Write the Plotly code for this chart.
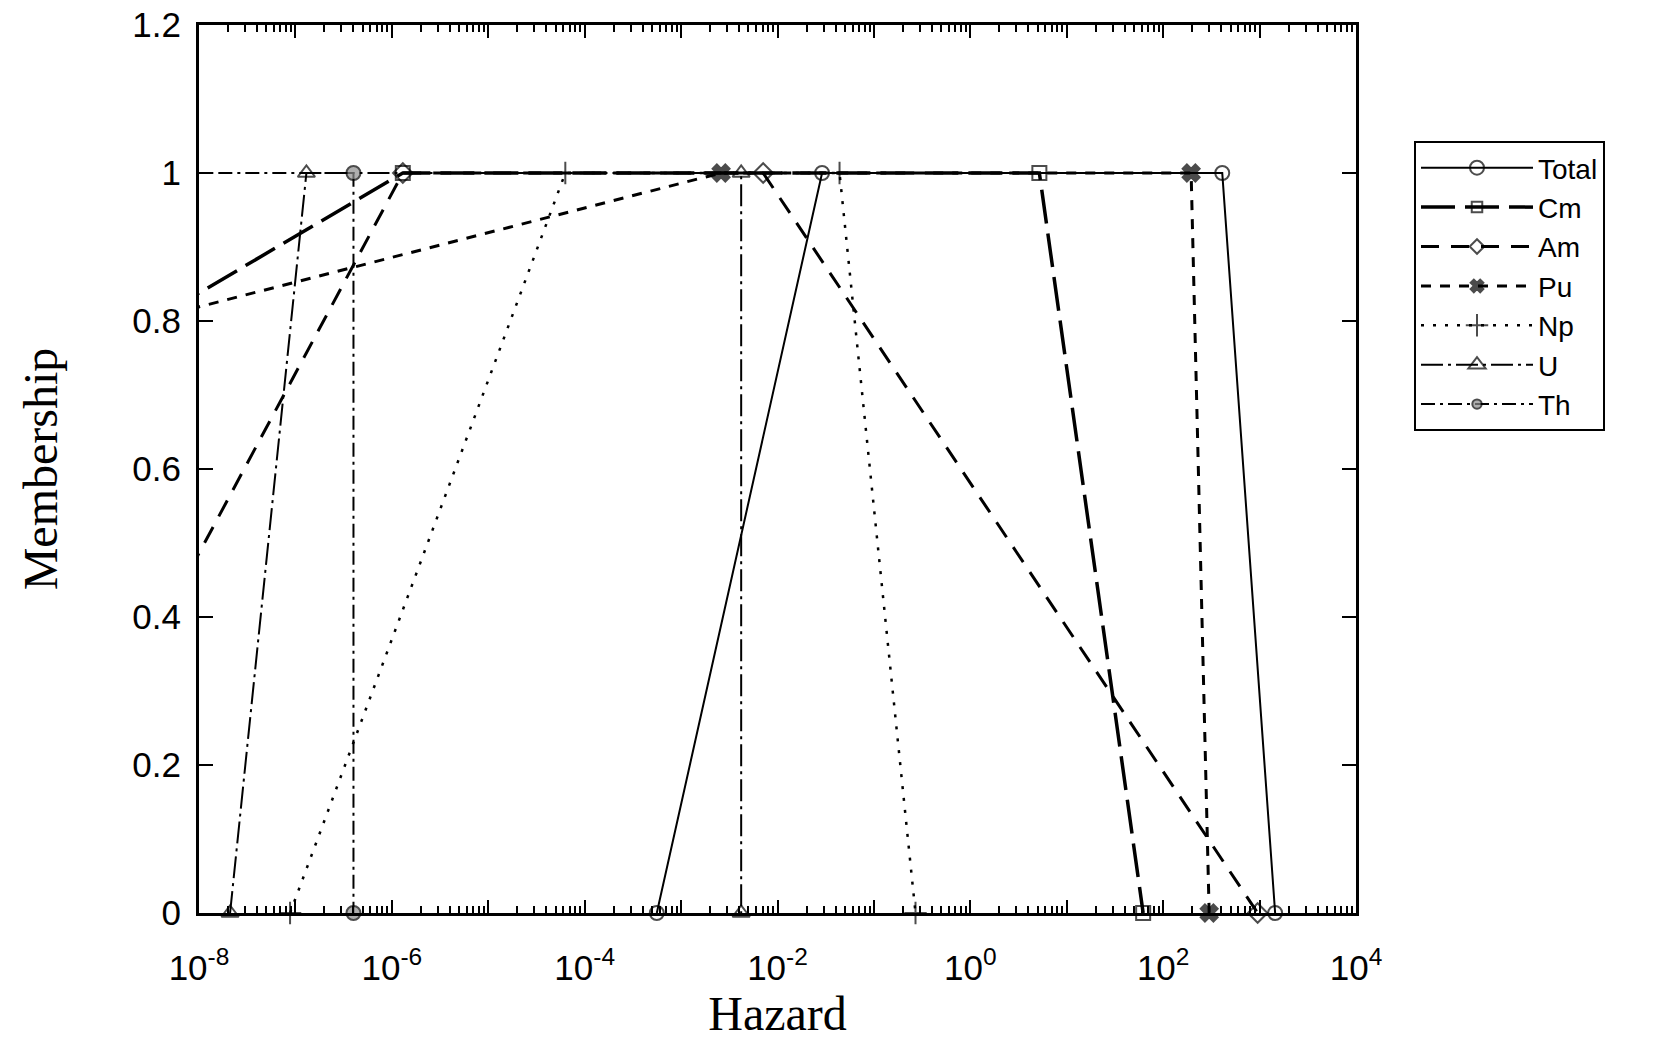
import plotly.graph_objects as go

# ---- data ----
x_exp_min, x_exp_max = -8, 4
y_ticks = [0, 0.2, 0.4, 0.6, 0.8, 1.0, 1.2]
y_tick_labels = ["0", "0.2", "0.4", "0.6", "0.8", "1", "1.2"]

total_x = [5.6e-4, 0.029, 410, 1450]
total_y = [0, 1, 1, 0]
cm_x = [1.2e-19, 1.3e-6, 5.2, 62]
cm_y = [0, 1, 1, 0]
am_x = [1.0e-10, 1.3e-6, 7.1e-3, 955]
am_y = [0, 1, 1, 0]
pu_x = [3e-33, 2.6e-3, 195, 300]
pu_y = [0, 1, 1, 0]
np_x = [8.8e-8, 6.3e-5, 0.044, 0.27]
np_y = [0, 1, 1, 0]
u_x = [2.1e-8, 1.3e-7, 4.2e-3, 4.2e-3]
u_y = [0, 1, 1, 0]
th_x = [1e-12, 4.0e-7, 4.0e-7]
th_y = [1, 1, 0]

series = [
    ("Total", total_x, total_y, dict(width=2, dash="solid"), "circle-open", 14, "black"),
    ("Cm", cm_x, cm_y, dict(width=3.5, dash="34px,10px"), "square-open", 14, "black"),
    ("Am", am_x, am_y, dict(width=3, dash="18px,12px"), "diamond-open", 15, "black"),
    ("Pu", pu_x, pu_y, dict(width=3, dash="10px,9px"), "x", 15, "black"),
    ("Np", np_x, np_y, dict(width=2.5, dash="3px,9px"), "cross-thin-open", 16, "black"),
    ("U", u_x, u_y, dict(width=2, dash="22px,5px,3px,5px"), "triangle-up-open", 15, "black"),
    ("Th", th_x, th_y, dict(width=2, dash="14px,5px,3px,5px"), "circle", 14, "#8c8c8c"),
]

lo, hi = 10 ** x_exp_min, 10 ** x_exp_max

fig = go.Figure()
for name, xs, ys, line, sym, size, mcol in series:
    sizes = [size if lo <= v <= hi else 0 for v in xs]
    fig.add_trace(go.Scatter(
        x=xs, y=ys, name=name, mode="lines+markers",
        line=dict(color="black", **line),
        marker=dict(symbol=sym, size=sizes, color=mcol,
                    line=dict(color="black", width=2)),
        cliponaxis=False,
    ))

major = [10 ** e for e in range(x_exp_min, x_exp_max + 1)]
major_text = ["10<sup>%d</sup>" % e if e % 2 == 0 else "" for e in range(x_exp_min, x_exp_max + 1)]
minor = [k * 10 ** e for e in range(x_exp_min, x_exp_max) for k in range(2, 10)]

W, H = 1657, 1043
L, R, T, B = 199, 1356, 25, 913

fig.update_layout(
    width=W, height=H,
    margin=dict(l=L, r=W - R, t=T, b=H - B, pad=0, autoexpand=False),
    paper_bgcolor="white", plot_bgcolor="white",
    font=dict(family="Liberation Sans", color="black", size=34),
    showlegend=True,
    legend=dict(
        x=(1414 - L) / (R - L), y=(B - 141) / (B - T),
        xanchor="left", yanchor="top",
        bordercolor="black", borderwidth=2, bgcolor="white",
        font=dict(family="Liberation Sans", size=28, color="black"),
        itemwidth=112, tracegroupgap=0,
    ),
    xaxis=dict(
        type="log", range=[x_exp_min, x_exp_max], automargin=False,
        tickmode="array", tickvals=major, ticktext=major_text,
        ticks="inside", ticklen=13, tickwidth=2, tickcolor="black",
        minor=dict(tickvals=minor, ticks="inside", ticklen=7, tickwidth=1.5,
                   tickcolor="black", showgrid=False),
        showline=True, linewidth=3, linecolor="black", mirror="allticks",
        showgrid=False, zeroline=False,
        tickfont=dict(family="Liberation Sans", size=35),
        ticklabelstandoff=22,
        title=dict(text="Hazard", font=dict(family="Liberation Serif", size=48), standoff=8),
    ),
    yaxis=dict(
        range=[0, 1.2], automargin=False,
        tickmode="array", tickvals=y_ticks, ticktext=y_tick_labels,
        ticks="inside", ticklen=14, tickwidth=2, tickcolor="black",
        showline=True, linewidth=3, linecolor="black", mirror="allticks",
        showgrid=False, zeroline=False,
        tickfont=dict(family="Liberation Sans", size=35),
        ticklabelstandoff=8,
        title=dict(text="Membership", font=dict(family="Liberation Serif", size=48), standoff=60),
    ),
)

fig.write_html("out.html")
